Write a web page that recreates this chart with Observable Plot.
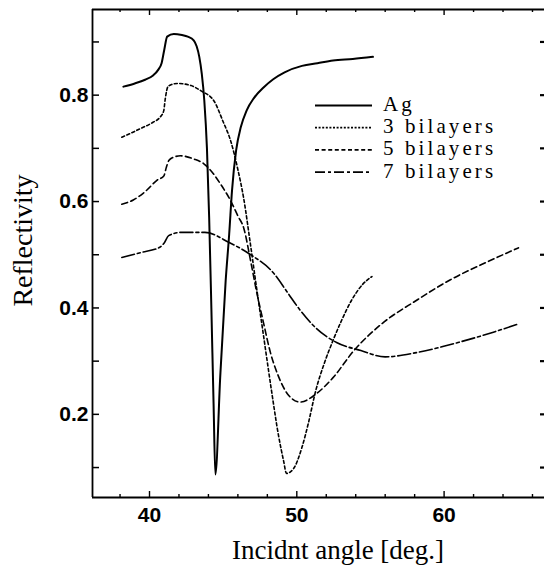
<!DOCTYPE html>
<html>
<head>
<meta charset="utf-8">
<script src="https://cdn.jsdelivr.net/npm/d3@7"></script>
<script src="https://cdn.jsdelivr.net/npm/@observablehq/plot@0.6"></script>
<style>
  html, body { margin: 0; padding: 0; background: #fff; }
  g[aria-label="xtitle"] text { letter-spacing: 2.1px; }
  g[aria-label="ytitle"] text { letter-spacing: 2px; }
  g.legend text { letter-spacing: 3.1px; }
  g[aria-label="x-axis tick label"] text, g[aria-label="y-axis tick label"] text { font-weight: bold; }
</style>
</head>
<body>
<div id="chart"></div>
<script>
// ---- data ----
const seriesNames = ["Ag", "3 bilayers", "5 bilayers", "7 bilayers"];

const agAngle = [38.23, 39.0, 39.7, 40.24, 40.6, 40.82, 41.0, 41.2, 41.65, 42.2, 42.6, 43.0, 43.2, 43.38, 43.55, 43.72, 43.9, 44.05, 44.2, 44.35, 44.47, 44.8, 45.17, 45.41, 45.6, 45.88, 46.2, 46.59, 47.1, 47.76, 48.4, 49.17, 50.35, 51.4, 52.46, 53.8, 55.17];
const agRefl  = [0.816, 0.822, 0.829, 0.837, 0.848, 0.860, 0.885, 0.910, 0.915, 0.913, 0.910, 0.903, 0.892, 0.872, 0.84, 0.79, 0.70, 0.57, 0.40, 0.22, 0.087, 0.27, 0.451, 0.539, 0.62, 0.696, 0.74, 0.771, 0.795, 0.815, 0.83, 0.843, 0.855, 0.860, 0.865, 0.868, 0.872];

const bi3Angle = [38.12, 38.7, 39.29, 40.24, 40.7, 40.96, 41.08, 41.25, 41.5, 41.88, 42.82, 43.5, 44.4, 45.0, 45.5, 46.0, 46.4, 46.8, 47.2, 47.74, 48.28, 48.76, 49.1, 49.3, 49.78, 50.35, 50.79, 51.29, 51.88, 52.46, 53.03, 53.71, 54.46, 55.1];
const bi3Refl  = [0.721, 0.728, 0.736, 0.749, 0.758, 0.770, 0.795, 0.816, 0.820, 0.822, 0.818, 0.808, 0.788, 0.750, 0.715, 0.660, 0.605, 0.530, 0.451, 0.348, 0.245, 0.160, 0.113, 0.089, 0.098, 0.138, 0.184, 0.245, 0.297, 0.339, 0.376, 0.414, 0.444, 0.459];

const bi5Angle = [38.12, 38.9, 39.76, 40.5, 40.97, 41.15, 41.31, 41.7, 42.1, 43.0, 43.69, 44.2, 44.82, 45.5, 46.0, 46.4, 46.86, 47.26, 47.74, 48.21, 48.69, 49.41, 50.23, 51.29, 52.46, 53.88, 55.76, 58.11, 60.43, 62.81, 65.05];
const bi5Refl  = [0.595, 0.603, 0.620, 0.640, 0.648, 0.665, 0.677, 0.684, 0.686, 0.680, 0.671, 0.657, 0.633, 0.602, 0.573, 0.550, 0.489, 0.432, 0.372, 0.316, 0.276, 0.237, 0.223, 0.238, 0.269, 0.320, 0.370, 0.414, 0.453, 0.485, 0.513];

const bi7Angle = [38.12, 39.39, 40.7, 41.02, 41.3, 42.12, 43.76, 45.41, 46.82, 48.47, 49.37, 50.25, 51.27, 52.7, 54.35, 56.0, 58.11, 60.94, 63.29, 65.05];
const bi7Refl  = [0.495, 0.504, 0.514, 0.523, 0.536, 0.542, 0.542, 0.523, 0.501, 0.464, 0.429, 0.395, 0.363, 0.335, 0.320, 0.308, 0.316, 0.335, 0.354, 0.370];

const xTickLabels = [40, 50, 60];
const xMinorTicks = [38, 42, 44, 46, 48, 52, 54, 56, 58, 62, 64, 66];
const yTickLabels = [0.2, 0.4, 0.6, 0.8];
const yAllTicks   = [0.1, 0.2, 0.3, 0.4, 0.5, 0.6, 0.7, 0.8, 0.9];
const xDomain = [36.13, 66.816];
const yDomain = [0.0437, 0.961];
const xTitle = "Incidnt angle [deg.]";
const yTitle = "Reflectivity";

// ---- styles / layout ----
const W = 544, H = 569, mL = 92, mR = 0, mT = 9, mB = 72;
const plotW = W - mL - mR, plotH = H - mT - mB;
const seriesDash   = ["none", "3,2.5", "6,3.5", "13,3,3,3"];
const seriesWidth  = [2, 1.6, 1.6, 1.6];
const legendDash   = ["none", "2,1.6", "4,2.6", "10,3,3,3"];

const angles = [agAngle, bi3Angle, bi5Angle, bi7Angle];
const refls  = [agRefl, bi3Refl, bi5Refl, bi7Refl];
const rows = seriesNames.flatMap((s, i) => angles[i].map((a, j) => ({series: s, angle: a, refl: refls[i][j]})));

const lineMarks = seriesNames.map((s, i) =>
  Plot.line(rows.filter(d => d.series === s), {
    x: "angle", y: "refl", stroke: "#000",
    strokeWidth: seriesWidth[i], strokeDasharray: seriesDash[i],
    curve: "monotone-x"
  })
);

const chart = Plot.plot({
  width: W, height: H,
  marginLeft: mL, marginRight: mR, marginTop: mT, marginBottom: mB,
  style: {fontFamily: "'Liberation Sans', Arial, sans-serif", fontSize: "21px", color: "#000", background: "#fff"},
  x: {domain: xDomain, ticks: xTickLabels, tickSize: 0, tickPadding: 10, label: null, tickFormat: d3.format("d")},
  y: {domain: yDomain, ticks: yTickLabels, tickSize: 0, tickPadding: 4, label: null, tickFormat: d3.format(".1f")},
  marks: [
    // frame (left, bottom, top)
    Plot.ruleX([xDomain[0]], {stroke: "#000", strokeWidth: 1.8}),
    Plot.ruleY(yDomain, {stroke: "#000", strokeWidth: 1.8}),
    // inward ticks
    Plot.tickY(yAllTicks, {y: d => d, stroke: "#000", strokeWidth: 1.5, insetRight: plotW - 7}),
    Plot.tickY(yAllTicks, {y: d => d, stroke: "#000", strokeWidth: 2.2, insetLeft: plotW - 4}),
    Plot.tickX(xMinorTicks, {x: d => d, stroke: "#000", strokeWidth: 1.4, insetTop: plotH - 3}),
    Plot.tickX(xTickLabels, {x: d => d, stroke: "#000", strokeWidth: 1.4, insetTop: plotH - 6}),
    Plot.tickX(xMinorTicks, {x: d => d, stroke: "#000", strokeWidth: 1.4, insetBottom: plotH - 3}),
    Plot.tickX(xTickLabels, {x: d => d, stroke: "#000", strokeWidth: 1.4, insetBottom: plotH - 6}),
    ...lineMarks,
    // axis titles
    Plot.text([xTitle], {frameAnchor: "bottom", dx: 19.5, dy: 53, lineAnchor: "middle", textAnchor: "middle",
      fontFamily: "'Liberation Serif', 'Times New Roman', serif", fontSize: 27, fill: "#000", ariaLabel: "xtitle"}),
    Plot.text([yTitle], {frameAnchor: "left", dx: -69, dy: -13, rotate: -90, lineAnchor: "middle", textAnchor: "middle",
      fontFamily: "'Liberation Serif', 'Times New Roman', serif", fontSize: 28, fill: "#000", ariaLabel: "ytitle"})
  ]
});

// legend
const legendX1 = 315, legendX2 = 372, legendTextX = 383, legendBase0 = 111, legendStep = 22.2;
const lg = d3.select(chart).append("g").attr("class", "legend").attr("text-anchor", "start");
seriesNames.forEach((name, i) => {
  const yb = legendBase0 + i * legendStep;
  lg.append("line")
    .attr("x1", legendX1).attr("x2", legendX2)
    .attr("y1", yb - 5.5).attr("y2", yb - 5.5)
    .attr("stroke", "#000").attr("stroke-width", i === 0 ? 2.2 : 1.7)
    .attr("stroke-dasharray", legendDash[i]);
  lg.append("text")
    .attr("x", legendTextX).attr("y", yb)
    .attr("text-anchor", "start")
    .attr("font-family", "'Liberation Serif', 'Times New Roman', serif")
    .attr("font-size", 21).attr("fill", "#000")
    .text(name);
});

document.getElementById("chart").appendChild(chart);
</script>
</body>
</html>
